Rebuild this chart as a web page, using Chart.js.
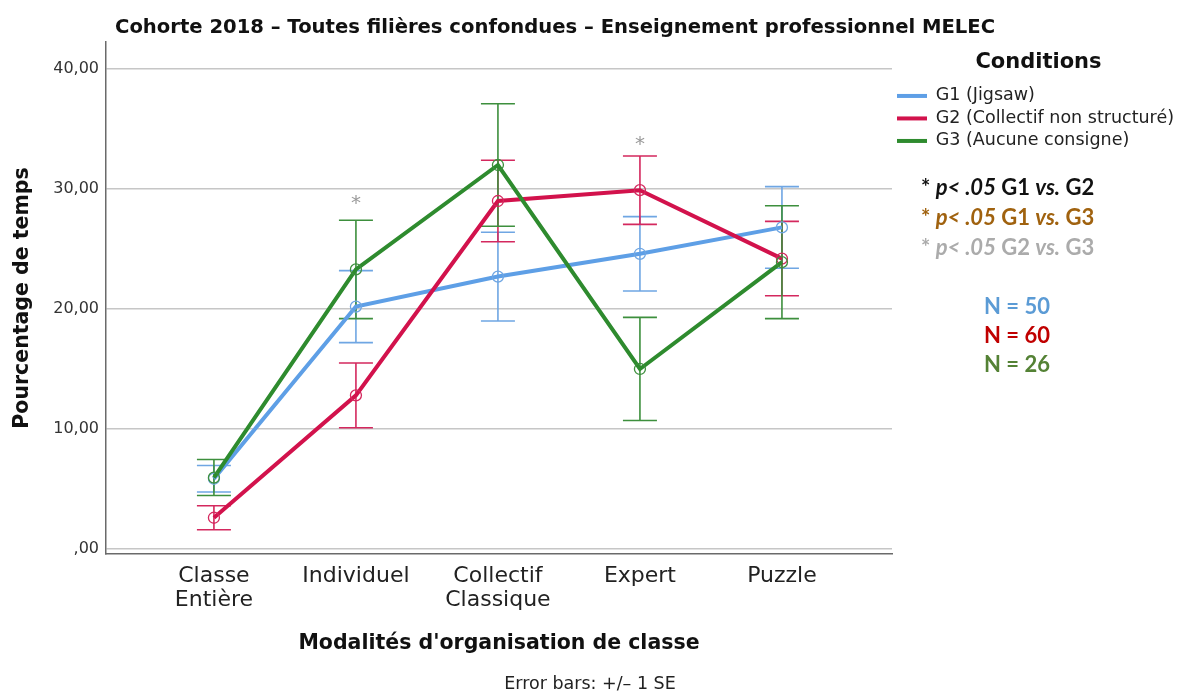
<!DOCTYPE html>
<html><head><meta charset="utf-8">
<script src="https://cdn.jsdelivr.net/npm/chart.js@4.4.1/dist/chart.umd.min.js"></script>
<style>html,body{margin:0;padding:0;background:#fff}</style>
</head><body>
<canvas id="c" width="1185" height="695"></canvas>
<script>
// ---------- data ----------
const categories = [['Classe', 'Entière'], 'Individuel', ['Collectif', 'Classique'], 'Expert', 'Puzzle'];
const seriesNames = ['G1 (Jigsaw)', 'G2 (Collectif non structuré)', 'G3 (Aucune consigne)'];
const g1Mean = [5.85, 20.2, 22.7, 24.6, 26.8];
const g1SE   = [1.1, 3.0, 3.7, 3.1, 3.4];
const g2Mean = [2.6, 12.8, 29.0, 29.9, 24.2];
const g2SE   = [1.0, 2.7, 3.4, 2.85, 3.1];
const g3Mean = [5.95, 23.3, 32.0, 15.0, 23.9];
const g3SE   = [1.5, 4.1, 5.1, 4.3, 4.7];
const yTicks = [0, 10, 20, 30, 40];
const sigCats = [1, 3];          // categories with a grey asterisk (G2 vs G3)
const sigLevels = [29.1, 34.0];  // value level of those asterisks
const sampleSizes = [50, 60, 26];
const titleText = 'Cohorte 2018 – Toutes filières confondues – Enseignement professionnel MELEC';
const footText = 'Error bars: +/– 1 SE';

// ---------- styles ----------
const lineColors = ['#5E9FE6', '#D2124C', '#2E8B2E'];
const barColors  = ['#6FA6E3', '#D4285E', '#3D8F3D'];
const nColors    = ['#5B9BD5', '#C00000', '#548235'];
const means = [g1Mean, g2Mean, g3Mean];
const ses = [g1SE, g2SE, g3SE];
const sigTexts = [
  {color: '#111111', groups: ['G1', 'G2']},
  {color: '#A0620F', groups: ['G1', 'G3']},
  {color: '#ABABAB', groups: ['G2', 'G3']}
];
const FAM = '"DejaVu Sans", "Noto Sans", sans-serif';

const errorBars = {
  id: 'errorBars',
  beforeDatasetsDraw(chart) {
    const {ctx, scales: {x, y}} = chart;
    const CAP = 17;
    means.forEach((m, s) => {
      ctx.save();
      ctx.strokeStyle = barColors[s];
      ctx.lineWidth = 1.6;
      m.forEach((v, i) => {
        const px = x.getPixelForValue(i);
        const t = y.getPixelForValue(v + ses[s][i]);
        const b = y.getPixelForValue(v - ses[s][i]);
        ctx.beginPath();
        ctx.moveTo(px, t); ctx.lineTo(px, b);
        ctx.moveTo(px - CAP, t); ctx.lineTo(px + CAP, t);
        ctx.moveTo(px - CAP, b); ctx.lineTo(px + CAP, b);
        ctx.stroke();
      });
      ctx.restore();
    });
  }
};

function centerText(ctx, text, x, cy) {
  const m = ctx.measureText(text);
  ctx.textBaseline = 'alphabetic';
  ctx.fillText(text, x, cy + (m.actualBoundingBoxAscent - m.actualBoundingBoxDescent) / 2);
}

const annotations = {
  id: 'annotations',
  beforeLayout(chart) {
    const lg = chart.legend;
    if (lg && !lg._fixedW) {
      const orig = lg.fit.bind(lg);
      lg.fit = function () { orig(); this.width = 293; };
      lg._fixedW = true;
    }
  },
  afterDraw(chart) {
    const {ctx, scales: {x, y}} = chart;
    ctx.save();
    // title
    ctx.fillStyle = '#111';
    ctx.font = 'bold 19.6px ' + FAM;
    ctx.textAlign = 'left';
    ctx.textBaseline = 'alphabetic';
    ctx.fillText(titleText, 115, 33);
    // grey asterisks
    ctx.fillStyle = '#9A9A9A';
    ctx.font = '20px ' + FAM;
    ctx.textAlign = 'center';
    sigCats.forEach((c, i) => centerText(ctx, '*', x.getPixelForValue(c), y.getPixelForValue(sigLevels[i])));
    // significance texts
    sigTexts.forEach((st, k) => {
      const cy = 188 + k * 30;
      const segs = [['* ', false], ['p< .05', true], [' ' + st.groups[0] + ' ', false], ['vs.', true], [' ' + st.groups[1], false]];
      let cx = 921;
      ctx.fillStyle = st.color;
      ctx.textAlign = 'left';
      ctx.textBaseline = 'middle';
      segs.forEach(([t, it]) => {
        ctx.font = (it ? 'italic ' : '') + 'bold 22px Lato, "Open Sans", sans-serif';
        ctx.fillText(t, cx, cy);
        cx += ctx.measureText(t).width;
      });
    });
    // sample sizes
    ctx.textAlign = 'center';
    ctx.textBaseline = 'middle';
    ctx.font = 'bold 22px Lato, "Open Sans", sans-serif';
    sampleSizes.forEach((n, k) => {
      ctx.fillStyle = nColors[k];
      ctx.fillText('N = ' + n, 1017, 307 + k * 29);
    });
    // footnote
    ctx.fillStyle = '#222';
    ctx.font = '17.5px ' + FAM;
    ctx.fillText(footText, 590, 684);
    ctx.restore();
  }
};

const datasets = seriesNames.map((name, s) => ({
  label: name,
  data: means[s].map((v, i) => ({x: i, y: v})),
  borderColor: lineColors[s],
  backgroundColor: lineColors[s],
  borderWidth: 4,
  tension: 0,
  fill: false,
  pointRadius: 5.5,
  pointBorderWidth: 1.3,
  pointBorderColor: barColors[s],
  pointBackgroundColor: 'rgba(0,0,0,0)',
  order: 3 - s
}));

new Chart(document.getElementById('c'), {
  type: 'line',
  data: {datasets},
  plugins: [errorBars, annotations],
  options: {
    responsive: false,
    animation: false,
    devicePixelRatio: 1,
    layout: {padding: {top: 42, left: 0, right: 0, bottom: 0}},
    plugins: {
      tooltip: {enabled: false},
      title: {display: false},
      legend: {
        position: 'right',
        align: 'start',
        title: {
          display: true,
          text: 'Conditions',
          color: '#111',
          font: {family: FAM, size: 21, weight: 'bold'},
          padding: {top: 10, bottom: 5}
        },
        labels: {
          boxWidth: 30,
          boxHeight: 4,
          padding: 5,
          color: '#222',
          font: {family: FAM, size: 17.5},
          sort: (a, b) => a.datasetIndex - b.datasetIndex,
          generateLabels: (chart) => chart.data.datasets.map((d, i) => ({
            text: d.label,
            fillStyle: d.borderColor,
            strokeStyle: d.borderColor,
            lineWidth: 0,
            hidden: false,
            datasetIndex: i,
            fontColor: '#222'
          }))
        }
      }
    },
    scales: {
      x: {
        type: 'linear',
        min: -0.76,
        max: 4.775,
        afterFit: (s) => { s.height = 141; },
        afterBuildTicks: (s) => { s.ticks = categories.map((_, i) => ({value: i})); },
        grid: {drawOnChartArea: false, drawTicks: false},
        border: {display: true, color: '#6a6a6a', width: 1.5},
        ticks: {
          autoSkip: false,
          maxRotation: 0,
          padding: 10,
          color: '#222',
          font: {family: FAM, size: 22, lineHeight: 1.1},
          callback: (v) => categories[v]
        },
        title: {
          display: true,
          text: "Modalités d'organisation de classe",
          color: '#111',
          font: {family: FAM, size: 20.5, weight: 'bold'},
          padding: {top: 0, bottom: 39}
        }
      },
      y: {
        type: 'linear',
        min: -0.42,
        max: 42.25,
        afterFit: (s) => { s.width = 106; },
        afterBuildTicks: (s) => { s.ticks = yTicks.map(v => ({value: v})); },
        grid: {color: '#C6C6C6', lineWidth: 1.6, drawTicks: false},
        border: {display: true, color: '#6a6a6a', width: 1.5},
        ticks: {
          padding: 7,
          color: '#333',
          font: {family: FAM, size: 16},
          callback: (v) => v === 0 ? ',00' : v.toFixed(2).replace('.', ',')
        },
        title: {
          display: true,
          text: 'Pourcentage de temps',
          color: '#111',
          font: {family: FAM, size: 20.5, weight: 'bold'},
          padding: {top: 10, bottom: 0}
        }
      }
    }
  }
});
</script>
</body></html>
